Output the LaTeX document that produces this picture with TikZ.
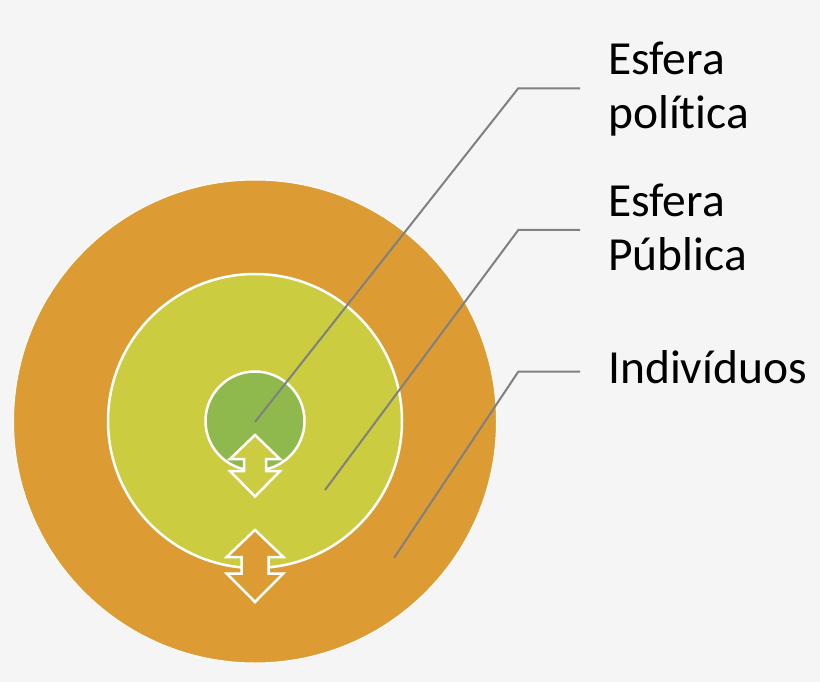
\documentclass[tikz,border=0pt]{standalone}
\usepackage{fontspec}
\setmainfont{Carlito}[Ligatures=NoCommon]
\definecolor{bgC}{HTML}{F5F5F5}
\definecolor{orangeC}{HTML}{DC9C33}
\definecolor{ygC}{HTML}{CBCC40}
\definecolor{greenC}{HTML}{8FB94C}
\definecolor{lineC}{HTML}{808080}
\begin{document}
\begin{tikzpicture}[x=1pt,y=-1pt,
  ring/.style={circle, draw=white, inner sep=0pt, outer sep=0pt},
  dblarrow/.style={draw=white, line width=2.5pt, line join=miter},
  callout/.style={draw=lineC, line width=2pt},
  lbl/.style={anchor=base west, inner sep=0pt, align=left, text=black,
    font=\fontsize{47.5}{53.3}\selectfont}]
\useasboundingbox (0,0) rectangle (820,682);
\fill[bgC] (0,0) rectangle (820,682);
% circles
\node[ring, fill=orangeC, line width=1pt, minimum size=483pt] (outer) at (255,421.5) {};
\node[ring, fill=ygC, line width=2.5pt, minimum size=294pt] (middle) at (255,421) {};
% outer arrow
\draw[dblarrow, fill=orangeC] (255,530) -- (226.7,557) -- (241.5,557) -- (241.5,573.5)
  -- (226.7,573.5) -- (255,602) -- (283.3,573.5) -- (268.5,573.5) -- (268.5,557)
  -- (283.3,557) -- cycle;
\node[ring, fill=greenC, line width=2.5pt, minimum size=99pt] (inner) at (255,421) {};
% inner arrow
\draw[dblarrow, fill=ygC] (255,435) -- (230,459) -- (244,459) -- (244,471)
  -- (230,471) -- (255,496.5) -- (280,471) -- (266,471) -- (266,459)
  -- (280,459) -- cycle;
% callouts
\coordinate (p1) at (255,422);
\coordinate (k1) at (518.3,88.3);
\coordinate (e1) at (580,88.3);
\coordinate (p2) at (325,490);
\coordinate (k2) at (518.3,230);
\coordinate (e2) at (580,230);
\coordinate (p3) at (394.3,557.7);
\coordinate (k3) at (518.3,371.7);
\coordinate (e3) at (580,371.7);
\draw[callout] (p1) -- (k1) -- (e1);
\draw[callout] (p2) -- (k2) -- (e2);
\draw[callout] (p3) -- (k3) -- (e3);
% labels
\node[lbl] (t1) at (608,128.3) {Esfera\\política};
\node[lbl] (t2) at (608,270) {Esfera\\Pública};
\node[lbl] (t3) at (608,383.3) {Indivíduos};
\end{tikzpicture}
\end{document}
